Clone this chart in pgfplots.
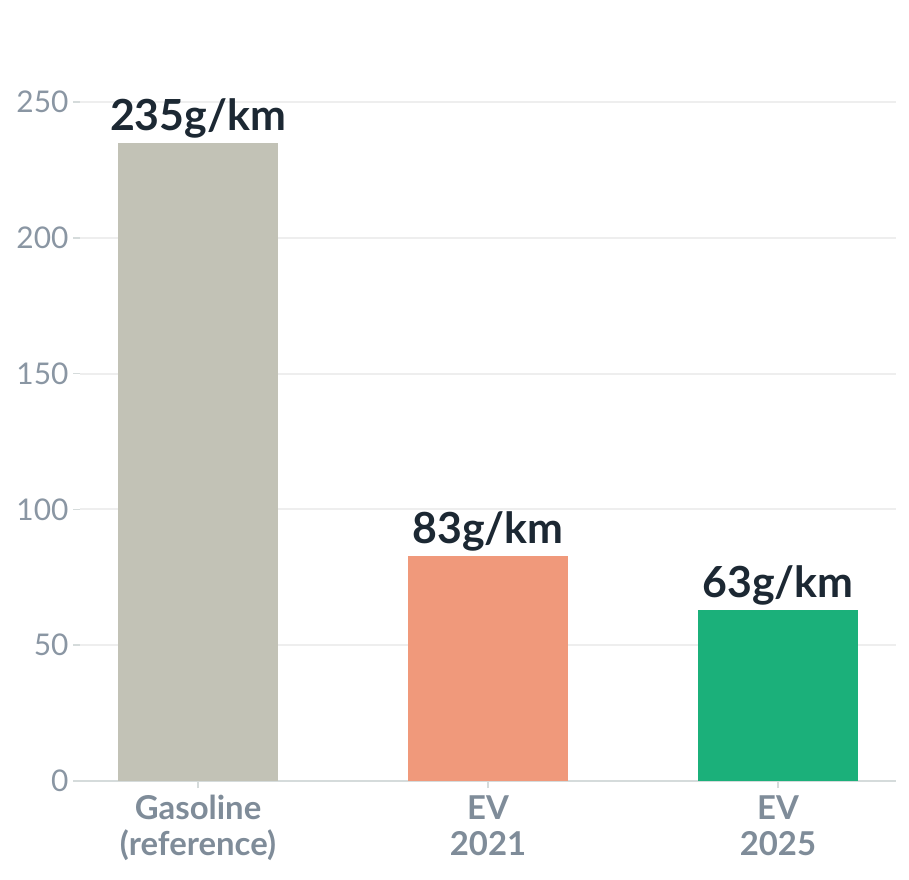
\documentclass[border=0pt]{standalone}
\usepackage{pgfplots}
\pgfplotsset{compat=1.18}
\usepackage{fontspec}
\setmainfont{Lato}
\definecolor{gas}{HTML}{C2C2B6}
\definecolor{ev21}{HTML}{F0997B}
\definecolor{ev25}{HTML}{1BB07A}
\definecolor{lab}{HTML}{1C2833}
\definecolor{tickc}{HTML}{8A96A3}
\definecolor{xlab}{HTML}{7F8C99}
\definecolor{gridc}{HTML}{EEEEEE}
\definecolor{axc}{HTML}{D5DBDB}
\begin{document}
\begin{tikzpicture}
\path[use as bounding box] (0,0) rectangle (909bp,880bp);
\begin{axis}[
  at={(80bp,99bp)}, anchor=south west,
  scale only axis, width=816bp, height=679bp,
  xmin=-0.407, xmax=2.407, ymin=0, ymax=250,
  ybar, bar width=160bp, bar shift=0pt,
  xtick={0,1,2},
  xticklabels={{Gasoline\\(reference)},{EV\\2021},{EV\\2025}},
  ytick={0,50,100,150,200,250},
  /pgf/number format/assume math mode=true,
  axis x line=bottom, axis y line=left,
  x axis line style={-, draw=axc, line width=2bp},
  y axis line style={draw=none},
  tick align=outside,
  major tick length=7bp,
  every tick/.style={draw=axc, line width=1.5bp},
  xtick pos=bottom, ytick pos=left,
  ymajorgrids, grid style={draw=gridc, line width=2bp},
  yticklabel style={font=\fontsize{30}{34}\selectfont, text=tickc, xshift=-1bp},
  xticklabel style={font=\fontsize{33}{36}\selectfont\bfseries, text=xlab, align=center, yshift=-4bp},
  nodes near coords={\pgfmathprintnumber{\pgfplotspointmeta}g/km},
  every node near coord/.append style={font=\fontsize{43}{48}\selectfont\bfseries, text=lab, yshift=1bp},
]
\addplot[fill=gas, draw=none] coordinates {(0,235)};
\addplot[fill=ev21, draw=none] coordinates {(1,83)};
\addplot[fill=ev25, draw=none] coordinates {(2,63)};
\end{axis}
\end{tikzpicture}
\end{document}
